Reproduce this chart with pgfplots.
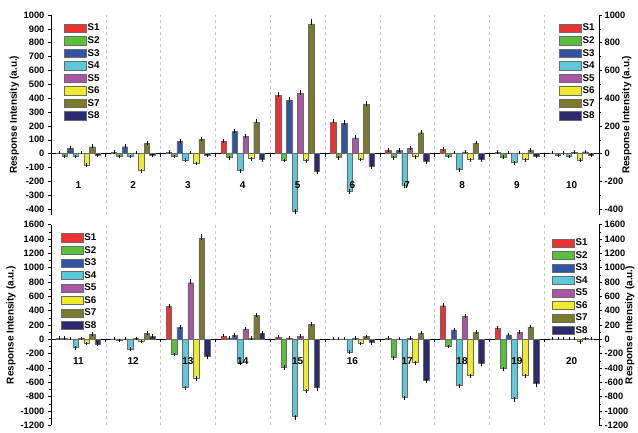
\documentclass[border=0pt]{standalone}
\usepackage{fontspec}
\setmainfont{Liberation Sans}
\usepackage{pgfplots}
\usepackage{pgfplotstable}
\pgfplotsset{compat=1.18}

\definecolor{cSa}{HTML}{EE3030}
\definecolor{cSb}{HTML}{5CBF3C}
\definecolor{cSc}{HTML}{2F55A4}
\definecolor{cSd}{HTML}{5BC8DC}
\definecolor{cSe}{HTML}{A855A5}
\definecolor{cSf}{HTML}{F0EB28}
\definecolor{cSg}{HTML}{7A7A2A}
\definecolor{cSh}{HTML}{2B2B72}
\definecolor{barline}{HTML}{6A6A6A}

\pgfplotstableread{
x  S1   S2   S3   S4    S5   S6    S7   S8
1  6   -17   42  -18    4   -80    50  -10
2  8   -19   50  -19    4  -122    76  -10
3  10  -17   88  -44    4   -68   104  -11
4  87  -29  160 -120  124   -36   230  -42
5  421 -46  385 -412  435   -49   935 -130
6  228 -28  220 -268  114   -38   357  -91
7  25  -27   24 -225   36   -20   151  -58
8  30  -17    4 -115   12   -42    77  -41
9  10  -23    5  -64    6   -41    24  -18
10 5   -10    3  -19   10   -45    14   -8
}\toptab

\pgfplotstableread{
x  S1   S2    S3   S4    S5   S6    S7    S8
11 12   12     4  -114   10   -57    68   -62
12 8    -8     5  -132   10   -26    80    42
13 458 -206  166  -667  790  -536  1410  -238
14 46   18    54  -322  147    15   332    82
15 32  -384   20 -1077   44  -706   208  -672
16 5     5     5  -175   15   -50    38   -45
17 15  -253    5  -805   15  -326    87  -570
18 469  -92  133  -639  322  -506    97  -340
19 161 -409   64  -828   95  -497   175  -616
20 5     5     5     5    8   -30    10     5
}\bottab

\pgfplotscreateplotcyclelist{scol}{
{fill=cSa,draw=barline},{fill=cSb,draw=barline},{fill=cSc,draw=barline},{fill=cSd,draw=barline},
{fill=cSe,draw=barline},{fill=cSf,draw=barline},{fill=cSg,draw=barline},{fill=cSh,draw=barline}}

\pgfplotsset{
  boxlegend/.style={legend image code/.code={\draw[##1,line width=0.5pt] (0pt,-4pt) rectangle (22pt,4.3pt);}},
  panel/.style={
    scale only axis, width=549pt,
    tick label style={font=\bfseries\fontsize{9.3}{10}\selectfont},
    label style={font=\bfseries\fontsize{10}{11}\selectfont},
    /pgf/number format/assume math mode=true,
    /pgf/number format/1000 sep={},
    axis line style={-, black, line width=0.6pt},
    tick style={black, line width=0.5pt},
    tick align=outside,
    major tick length=3pt, minor tick length=1.8pt,
    legend style={draw=none, fill=none, font=\bfseries\fontsize{9.8}{10}\selectfont,
      row sep=2.2pt, inner sep=1pt, nodes={inner sep=1pt}},
    legend cell align=left,
  },
  mainax/.style={panel,
    axis x line*=middle, axis y line*=left,
    xticklabels={},
    xmajorgrids, grid style={dashed, gray!45, line width=0.4pt},
    ybar=0pt, bar width=0.1,
    cycle list name=scol,
    ylabel={Response Intensity (a.u.)},
    ylabel shift=-2pt,
  },
  rightax/.style={panel,
    axis y line*=right, axis x line=none,
    ylabel={Response Intensity (a.u.)},
    ylabel shift=-10pt,
    yticklabel style={xshift=-1pt},
  },
  errs/.style={error bars/.cd, y dir=both, y explicit,
    error bar style={black, line width=0.4pt},
    error mark options={black, mark size=1.4pt, line width=0.4pt}},
}

\begin{document}
\begin{tikzpicture}
% ---------------- top panel ----------------
\begin{axis}[mainax, at={(0,0)}, anchor=south west, height=200pt,
  xmin=0.5, xmax=10.5, ymin=-440, ymax=1000,
  xtick={0.5,1.5,...,10.5},
  ytick={-400,-300,...,1000},
  legend style={at={(0.022,0.965)}, anchor=north west}]
\pgfplotsinvokeforeach{S1,S2,S3,S4,S5,S6,S7,S8}{
  \addplot+[boxlegend, line width=0.4pt, errs] table[x=x, y=#1,
    y error plus expr={\thisrow{#1}>0 ? 0.025*\thisrow{#1}+5 : 0},
    y error minus expr={\thisrow{#1}<0 ? -0.025*\thisrow{#1}+5 : 0}] {\toptab};
  \addlegendentry{#1}
}
\pgfplotsinvokeforeach{1,...,10}{
  \node[font=\bfseries\fontsize{10}{12}\selectfont] at (axis cs:#1,-226) {#1};
}
\end{axis}
\begin{axis}[rightax, at={(0,0)}, anchor=south west, height=200pt,
  xmin=0.5, xmax=10.5, ymin=-440, ymax=1000,
  ytick={-400,-200,...,1000}, minor y tick num=1,
  legend style={at={(0.996,0.965)}, anchor=north east}]
\addlegendimage{fill=cSa,draw=barline,boxlegend}\addlegendentry{S1}
\addlegendimage{fill=cSb,draw=barline,boxlegend}\addlegendentry{S2}
\addlegendimage{fill=cSc,draw=barline,boxlegend}\addlegendentry{S3}
\addlegendimage{fill=cSd,draw=barline,boxlegend}\addlegendentry{S4}
\addlegendimage{fill=cSe,draw=barline,boxlegend}\addlegendentry{S5}
\addlegendimage{fill=cSf,draw=barline,boxlegend}\addlegendentry{S6}
\addlegendimage{fill=cSg,draw=barline,boxlegend}\addlegendentry{S7}
\addlegendimage{fill=cSh,draw=barline,boxlegend}\addlegendentry{S8}
\end{axis}
% ---------------- bottom panel ----------------
\begin{axis}[mainax, at={(0,-211pt)}, anchor=south west, height=201pt,
  xmin=10.5, xmax=20.5, ymin=-1200, ymax=1600,
  xtick={10.5,11.5,...,20.5},
  ytick={-1200,-1000,...,1600}, minor y tick num=1,
  legend style={at={(0.016,0.965)}, anchor=north west}]
\pgfplotsinvokeforeach{S1,S2,S3,S4,S5,S6,S7,S8}{
  \addplot+[boxlegend, line width=0.4pt, errs] table[x=x, y=#1,
    y error plus expr={\thisrow{#1}>0 ? 0.025*\thisrow{#1}+8 : 0},
    y error minus expr={\thisrow{#1}<0 ? -0.025*\thisrow{#1}+8 : 0}] {\bottab};
  \addlegendentry{#1}
}
\pgfplotsinvokeforeach{11,...,20}{
  \node[font=\bfseries\fontsize{10}{12}\selectfont] at (axis cs:#1,-300) {#1};
}
\end{axis}
\begin{axis}[rightax, at={(0,-211pt)}, anchor=south west, height=201pt,
  xmin=10.5, xmax=20.5, ymin=-1200, ymax=1600,
  ytick={-1200,-1000,...,1600}, minor y tick num=1,
  legend style={at={(0.983,0.94)}, anchor=north east}]
\addlegendimage{fill=cSa,draw=barline,boxlegend}\addlegendentry{S1}
\addlegendimage{fill=cSb,draw=barline,boxlegend}\addlegendentry{S2}
\addlegendimage{fill=cSc,draw=barline,boxlegend}\addlegendentry{S3}
\addlegendimage{fill=cSd,draw=barline,boxlegend}\addlegendentry{S4}
\addlegendimage{fill=cSe,draw=barline,boxlegend}\addlegendentry{S5}
\addlegendimage{fill=cSf,draw=barline,boxlegend}\addlegendentry{S6}
\addlegendimage{fill=cSg,draw=barline,boxlegend}\addlegendentry{S7}
\addlegendimage{fill=cSh,draw=barline,boxlegend}\addlegendentry{S8}
\end{axis}
\pgfresetboundingbox
\path[use as bounding box] (-51pt,-218pt) rectangle (588pt,215pt);
\end{tikzpicture}
\end{document}
